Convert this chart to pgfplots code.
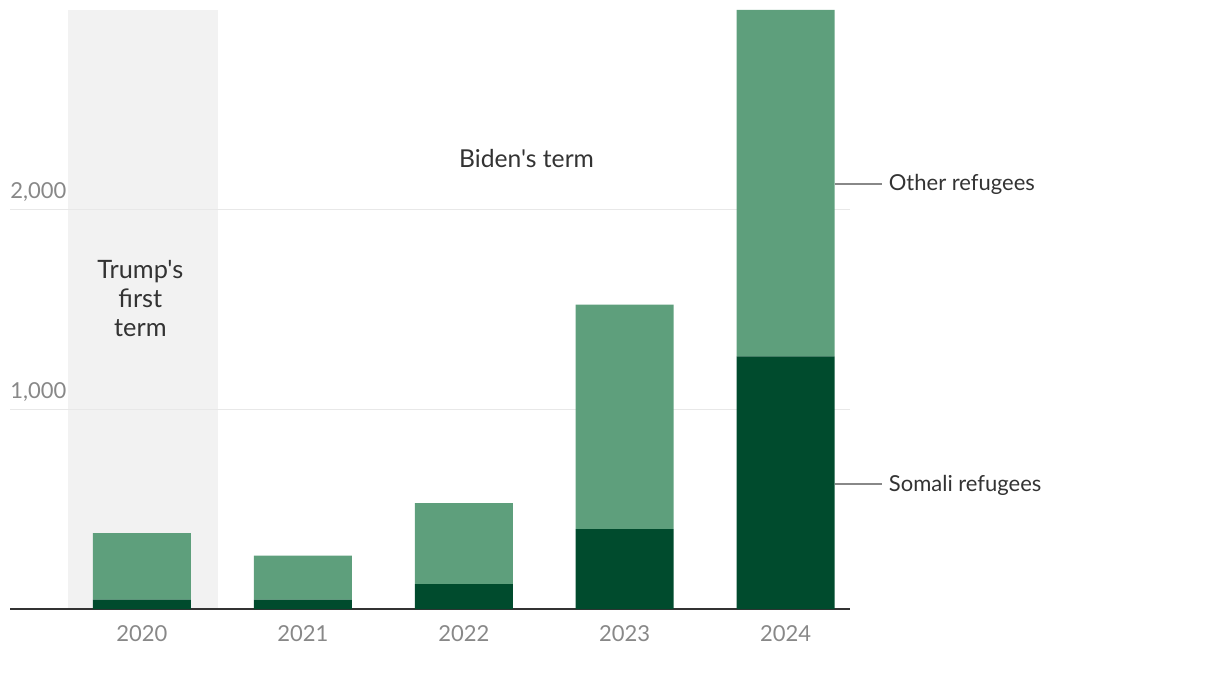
\documentclass[border=0pt]{standalone}
\usepackage{pgfplots}
\pgfplotsset{compat=1.18}
\usepackage{fontspec}
\setmainfont{Lato}[Ligatures=TeXOff]
\definecolor{lightg}{HTML}{5E9F7C}
\definecolor{darkg}{HTML}{004B2D}
\definecolor{bandc}{HTML}{F2F2F2}
\definecolor{gridc}{HTML}{E8E8E8}
\definecolor{tickc}{HTML}{888888}
\definecolor{txt}{HTML}{333333}
\pgfplotsset{geom/.style={at={(7.5pt,47.25pt)}, anchor=south west,
  scale only axis, width=630pt, height=449.25pt,
  xmin=-0.82, xmax=4.40, ymin=0, ymax=3000}}
\begin{document}
\begin{tikzpicture}
\begin{axis}[geom, hide axis]
\addplot[fill=bandc, draw=none] coordinates {(-0.46,3000) (0.47,3000)} \closedcycle;
\end{axis}
\begin{axis}[geom,
  ybar stacked, bar width=0.609,
  xtick={0,1,2,3,4}, xticklabels={2020,2021,2022,2023,2024},
  ytick={1000,2000}, yticklabels={{1,000},{2,000}},
  major tick length=0pt,
  axis lines*=left,
  y axis line style={draw=none},
  x axis line style={-, draw=txt, line width=1.5pt},
  ymajorgrids, grid style={draw=gridc, line width=0.9pt},
  yticklabel style={anchor=south west, inner sep=0pt, xshift=0pt, yshift=6pt, text=tickc, font=\fontsize{16.5}{20}\selectfont},
  xticklabel style={text=tickc, font=\fontsize{16.5}{20}\selectfont, yshift=-9pt},
  /pgf/number format/assume math mode=true,
  clip=false,
]
\addplot[fill=darkg, draw=none] coordinates {(0,47) (1,47) (2,125) (3,400) (4,1265)};
\addplot[fill=lightg, draw=none] coordinates {(0,333) (1,220) (2,405) (3,1125) (4,1735)};
\draw[tickc, line width=1.2pt] (axis cs:4.305,2130) -- (axis cs:4.60,2130);
\draw[tickc, line width=1.2pt] (axis cs:4.305,625) -- (axis cs:4.60,625);
\node[anchor=west, text=txt, font=\fontsize{16.5}{20}\selectfont, inner sep=0pt] at (axis cs:4.64,2125) {Other refugees};
\node[anchor=west, text=txt, font=\fontsize{16.5}{20}\selectfont, inner sep=0pt] at (axis cs:4.64,620) {Somali refugees};
\node[text=txt, font=\fontsize{18.5}{20}\selectfont] at (axis cs:2.39,2255) {Biden's term};
\node[text=txt, font=\fontsize{19}{21.5}\selectfont, align=center] at (axis cs:-0.01,1555) {Trump's\\first\\term};
\end{axis}
\path (0,0) rectangle (915pt,504pt);
\end{tikzpicture}
\end{document}
